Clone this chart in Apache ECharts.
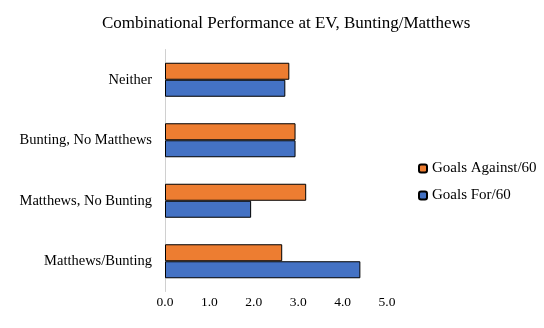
<!DOCTYPE html>
<html><head><meta charset="utf-8">
<script src="https://cdn.jsdelivr.net/npm/echarts@6/dist/echarts.min.js"></script>
<style>html,body{margin:0;padding:0;background:#fff}#c{width:544px;height:328px}</style>
</head><body><div id="c"></div>
<script>
var categories = ['Matthews/Bunting', 'Matthews, No Bunting', 'Bunting, No Matthews', 'Neither'];
var goalsFor = [4.40, 1.94, 2.94, 2.71];
var goalsAgainst = [2.64, 3.18, 2.94, 2.80];
var xTicks = [0, 1, 2, 3, 4, 5];
var seriesNames = ['Goals Against/60', 'Goals For/60'];

var font = 'Liberation Serif';
var chart = echarts.init(document.getElementById('c'));
chart.setOption({
  animation: false,
  title: {
    text: 'Combinational Performance at EV, Bunting/Matthews',
    left: 97, top: 10,
    textStyle: {fontFamily: font, fontSize: 17, fontWeight: 'normal', color: '#000'}
  },
  legend: {
    data: seriesNames,
    orient: 'vertical', left: 413, top: 156,
    itemWidth: 8, itemHeight: 8, itemGap: 12,
    textStyle: {fontFamily: font, fontSize: 15, color: '#000'}
  },
  grid: {left: 165, right: 157, top: 49.5, bottom: 36.5, containLabel: false},
  xAxis: {
    type: 'value', min: xTicks[0], max: xTicks[xTicks.length - 1], interval: 1,
    axisLine: {show: false}, axisTick: {show: false}, splitLine: {show: false},
    axisLabel: {fontFamily: font, fontSize: 13.5, color: '#000', margin: 4,
      formatter: function (v) { return v.toFixed(1); }}
  },
  yAxis: {
    type: 'category', data: categories,
    axisLine: {show: true, lineStyle: {color: '#d0d0d0', width: 1}},
    axisTick: {show: false},
    axisLabel: {fontFamily: font, fontSize: 14.5, color: '#000', margin: 13}
  },
  series: [
    {name: seriesNames[0], type: 'bar', data: goalsAgainst, barWidth: 17, barGap: '0%',
      itemStyle: {color: '#ED7D31', borderColor: '#000', borderWidth: 1}},
    {name: seriesNames[1], type: 'bar', data: goalsFor, barWidth: 17, barGap: '0%',
      itemStyle: {color: '#4472C4', borderColor: '#000', borderWidth: 1}}
  ]
});
</script></body></html>
